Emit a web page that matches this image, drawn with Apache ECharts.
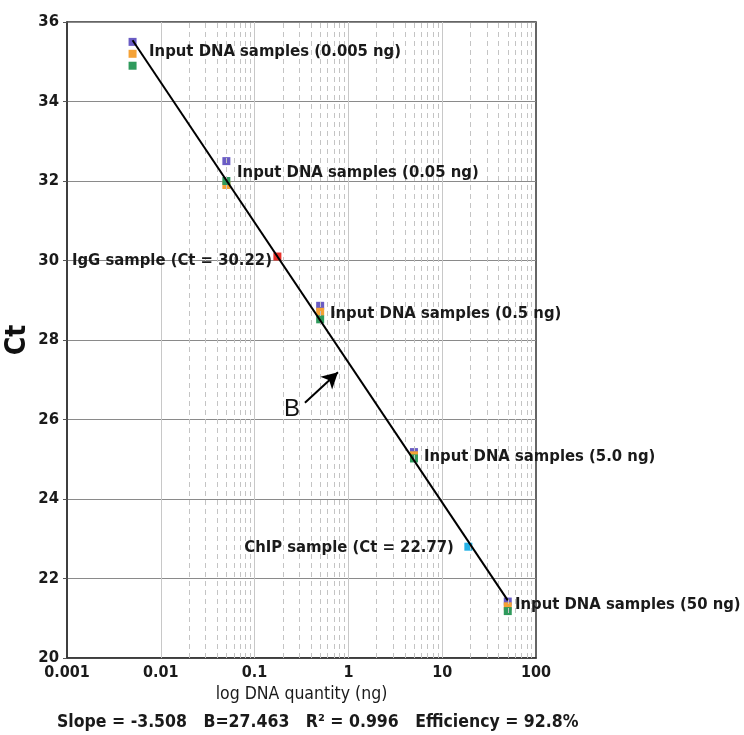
<!DOCTYPE html>
<html>
<head>
<meta charset="utf-8">
<script src="https://cdn.jsdelivr.net/npm/echarts@6/dist/echarts.min.js"></script>
<style>html,body{margin:0;padding:0;background:#fff}#c{width:744px;height:735px}</style>
</head>
<body>
<div id="c"></div>
<script>
// ---- data ----
const xTickLabels = ['0.001', '0.01', '0.1', '1', '10', '100'];
const minorX = [0.002,0.003,0.004,0.005,0.006,0.007,0.008,0.009,
  0.02,0.03,0.04,0.05,0.06,0.07,0.08,0.09,
  0.2,0.3,0.4,0.5,0.6,0.7,0.8,0.9,
  2,3,4,5,6,7,8,9,
  20,30,40,50,60,70,80,90];
const decadeX = [0.01, 0.1, 1, 10];
const purplePts = [[0.005,35.5],[0.05,32.5],[0.5,28.86],[5,25.18],[50,21.42]];
const orangePts = [[0.005,35.2],[0.05,31.9],[0.5,28.71],[5,25.1],[50,21.3]];
const greenPts  = [[0.005,34.9],[0.05,32.0],[0.5,28.52],[5,25.02],[50,21.18]];
const igGPt = [[0.175,30.1]];
const chipPt = [[19,22.8]];
const fitLine = [[0.005,35.54],[50,21.45]];
const rightLabels = [
  {name:'Input DNA samples (0.005 ng)', value:[0.0075,35.25]},
  {name:'Input DNA samples (0.05 ng)', value:[0.065,32.2]},
  {name:'Input DNA samples (0.5 ng)', value:[0.637,28.65]},
  {name:'Input DNA samples (5.0 ng)', value:[6.4,25.06]},
  {name:'Input DNA samples (50 ng)', value:[59.7,21.33]}
];
const leftLabels = [
  {name:'IgG sample (Ct = 30.22)', value:[0.153,30.0]},
  {name:'ChIP sample (Ct = 22.77)', value:[13.3,22.77]}
];
const arrowB = {from:[0.344,26.42], to:[0.774,27.19], label:[0.25,26.25], text:'B'};
const statsText = 'Slope = -3.508   B=27.463   R\u00B2 = 0.996   Efficiency = 92.8%';

const FONT = '"DejaVu Sans Condensed", "Liberation Sans Narrow", sans-serif';
const chart = echarts.init(document.getElementById('c'));
const sq = (name, data, color) => ({
  name, type:'scatter', data, symbol:'rect', symbolSize:8,
  itemStyle:{color, opacity:1}, z:3, silent:true
});
chart.setOption({
  animation:false,
  grid:{left:67, top:22, width:469, height:636, outerBoundsMode:'none', containLabel:false,
    show:true, borderColor:'#333', borderWidth:1.5, backgroundColor:'transparent'},
  title:{text:statsText, left:52, top:708, textStyle:{fontFamily:FONT, fontWeight:'bold', fontSize:17.5, color:'#1a1a1a'}},
  xAxis:{type:'log', logBase:10, min:0.001, max:100,
    name:'log DNA quantity (ng)', nameLocation:'middle', nameGap:27, nameMoveOverlap:false,
    nameTextStyle:{fontFamily:FONT, fontSize:17.5, color:'#1a1a1a'},
    axisLine:{lineStyle:{color:'#333', width:1.5}},
    axisTick:{show:false},
    axisLabel:{margin:7, fontFamily:FONT, fontWeight:'bold', fontSize:16, color:'#1a1a1a',
      formatter:(v)=>{const i=Math.round(Math.log10(v))+3; return xTickLabels[i]||'';}},
    splitLine:{show:false}
  },
  yAxis:{type:'value', min:20, max:36, interval:2,
    name:'Ct', nameLocation:'middle', nameGap:35, nameMoveOverlap:false,
    nameTextStyle:{fontFamily:FONT, fontWeight:'bold', fontSize:28, color:'#111'},
    axisLine:{lineStyle:{color:'#333', width:1.5}},
    axisTick:{show:true, length:4, lineStyle:{color:'#555'}},
    axisLabel:{margin:8, fontFamily:FONT, fontWeight:'bold', fontSize:16.5, color:'#1a1a1a'},
    splitLine:{show:true, lineStyle:{color:'#8a8a8a', width:1}}
  },
  series:[
    {type:'line', data:[], silent:true, z:1,
      markLine:{silent:true, symbol:['none','none'], label:{show:false},
        lineStyle:{color:'#c4c4c4', type:[5,4], width:1},
        data: minorX.map(v=>({xAxis:v}))}},
    {type:'line', data:[], silent:true, z:1,
      markLine:{silent:true, symbol:['none','none'], label:{show:false},
        lineStyle:{color:'#c8c8c8', type:'solid', width:1},
        data: decadeX.map(v=>({xAxis:v}))}},
    sq('purple', purplePts, '#6a5cc4'),
    sq('orange', orangePts, '#f5a236'),
    sq('green', greenPts, '#2f9a5c'),
    sq('igg', igGPt, '#e8312a'),
    sq('chip', chipPt, '#26b2e6'),
    {type:'line', data:fitLine, showSymbol:false, symbol:'none', silent:true, z:5,
      lineStyle:{color:'#000', width:2},
      markLine:{silent:true, symbol:['none','arrow'], symbolSize:[13,16],
        label:{show:false}, lineStyle:{color:'#000', width:2, type:'solid'},
        data:[[{coord:arrowB.from},{coord:arrowB.to}]]}},
    {type:'scatter', data:rightLabels, symbolSize:0, silent:true, z:6, itemStyle:{opacity:1},
      label:{show:true, position:'right', distance:0, formatter:'{b}',
        fontFamily:FONT, fontWeight:'bold', fontSize:16.5, color:'#1a1a1a'}},
    {type:'scatter', data:leftLabels, symbolSize:0, silent:true, z:6, itemStyle:{opacity:1},
      label:{show:true, position:'left', distance:0, formatter:'{b}',
        fontFamily:FONT, fontWeight:'bold', fontSize:16.5, color:'#1a1a1a'}},
    {type:'scatter', data:[{name:arrowB.text, value:arrowB.label}], symbolSize:0, silent:true, z:6, itemStyle:{opacity:1},
      label:{show:true, position:'inside', formatter:'{b}',
        fontFamily:'"Liberation Sans", sans-serif', fontSize:24, color:'#111'}}
  ]
});
</script>
</body>
</html>
